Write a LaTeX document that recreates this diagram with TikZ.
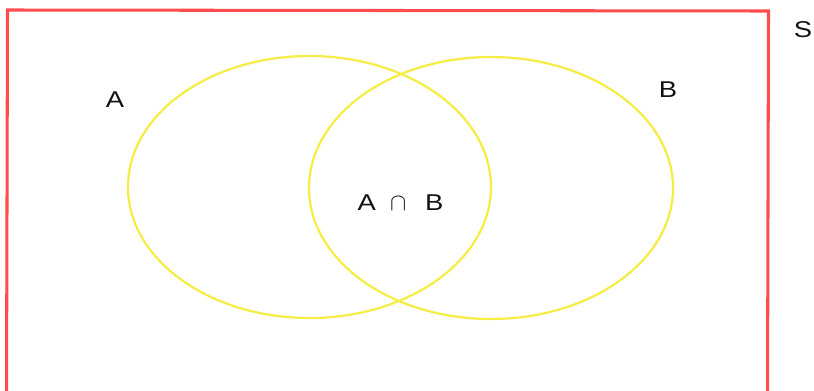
\documentclass[tikz,border=0pt]{standalone}
\usepackage{fontspec}
\setmainfont{Liberation Sans}
\newfontfamily\vnfont[FakeStretch=1.2]{Liberation Sans}
\definecolor{vnRed}{HTML}{FF4D4D}
\definecolor{vnYellow}{HTML}{F5EC45}
\definecolor{vnInk}{HTML}{111111}
\tikzset{
  vn frame/.style={draw=vnRed, line width=2.6pt, line join=miter},
  vn set/.style={draw=vnYellow, line width=1.9pt},
  vn label/.style={font=\vnfont\fontsize{19.5}{22}\selectfont, text=vnInk, inner sep=0pt},
}
\begin{document}
\begin{tikzpicture}[x=0.03cm,y=-0.03cm]
\useasboundingbox(0,0)rectangle(814,390);
\draw[vn frame](6.5,400)--(7.5,10)--(768.5,11)--(767.5,400);
\draw[vn set](309.5,187)ellipse[x radius=181.5,y radius=131];
\draw[vn set](491,188)ellipse[x radius=182,y radius=131];
\node[vn label](labA)at(115,100){A};
\node[vn label](labB)at(668,90){B};
\node[vn label](labS)at(803,30){S};
\node[vn label](labAB)at(400.5,203){A\hspace{12pt}$\cap$\hspace{16pt}B};
\end{tikzpicture}
\end{document}
